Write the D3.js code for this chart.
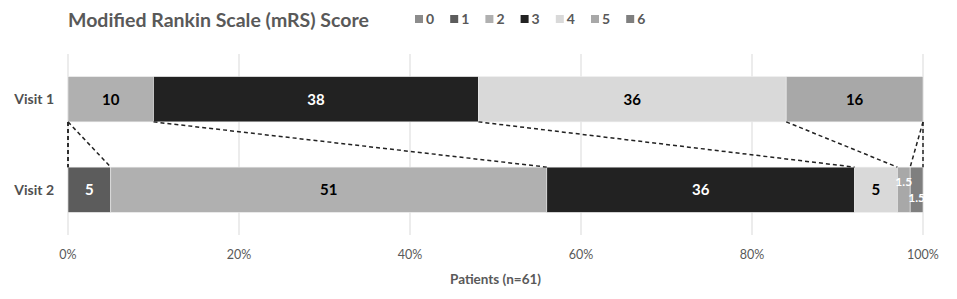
<!doctype html>
<html>
<head>
<meta charset="utf-8">
<style>
    body { margin: 0; background: #fff; font-family: Lato, 'Open Sans', sans-serif; }
    svg { display: block; }
    .grid line { stroke: #d9d9d9; stroke-width: 1; }
    .tick-label { font-size: 12.5px; fill: #595959; }
    .visit { font-size: 14px; font-weight: 700; fill: #505050; }
    .title { font-size: 19.5px; font-weight: 700; fill: #595959; }
    .legend text { font-size: 14px; font-weight: 700; fill: #595959; }
    .value { font-size: 15px; font-weight: 700; }
    .axis-title { font-size: 13.5px; font-weight: 700; fill: #595959; }
    .link { stroke: #222; stroke-width: 1.5; stroke-dasharray: 4 3; fill: none; }
</style>
<script src="https://d3js.org/d3.v7.min.js"></script>
</head>
<body>
<svg width="957" height="299"></svg>
<script>
// mRS categories and share of patients (%) per visit
const categories = ['0', '1', '2', '3', '4', '5', '6'];
const visits = ['Visit 1', 'Visit 2'];
const visit1 = [0, 0, 10, 38, 36, 16, 0];
const visit2 = [0, 5, 51, 36, 5, 1.5, 1.5];
const xTicks = [0, 20, 40, 60, 80, 100];

const colors = ['#8c8c8c', '#5c5c5c', '#b0b0b0', '#222222', '#d9d9d9', '#a8a8a8', '#7f7f7f'];
const textColors = ['#fff', '#fff', '#000', '#fff', '#000', '#000', '#fff'];

const svg = d3.select('svg');

const x = d3.scaleLinear().domain([0, 100]).range([68, 923]);
const y = d3.scaleBand().domain(visits).range([54, 235])
    .paddingInner(0.5).paddingOuter(0.25);

// rows for the stack
const rows = visits.map((v, i) => {
    const vals = i === 0 ? visit1 : visit2;
    const r = { visit: v };
    categories.forEach((c, j) => r[c] = vals[j]);
    return r;
});
const series = d3.stack().keys(categories)(rows);

// grid
svg.append('g').attr('class', 'grid')
    .selectAll('line').data(xTicks).join('line')
    .attr('x1', d => x(d)).attr('x2', d => x(d))
    .attr('y1', 54).attr('y2', 235);

svg.append('g').selectAll('text').data(xTicks).join('text')
    .attr('class', 'tick-label')
    .attr('x', d => x(d)).attr('y', 259)
    .attr('text-anchor', 'middle')
    .text(d => d + '%');

// bars
const segs = svg.append('g').selectAll('g').data(series).join('g')
    .attr('fill', (s, i) => colors[i]);

segs.selectAll('rect').data(s => s.map(d => ({ d, key: s.key })))
    .join('rect')
    .attr('x', o => x(o.d[0]))
    .attr('width', o => x(o.d[1]) - x(o.d[0]))
    .attr('y', o => y(o.d.data.visit))
    .attr('height', y.bandwidth())
    .attr('stroke', '#eee').attr('stroke-width', 0.6);

// connectors between cumulative boundaries
const cum = rows.map(r => {
    let acc = 0;
    const out = categories.map(c => { const s = acc; acc += r[c]; return s; });
    out.push(acc);
    return out;
});
const links = cum[0].map((a, i) => [a, cum[1][i]]);
svg.append('g').selectAll('line').data(links).join('line')
    .attr('class', 'link')
    .attr('x1', d => x(d[0])).attr('y1', y('Visit 1') + y.bandwidth())
    .attr('x2', d => x(d[1])).attr('y2', y('Visit 2'));

// value labels
const labels = [];
series.forEach((s, i) => s.forEach(d => {
    const v = d[1] - d[0];
    if (v > 0) labels.push({ v, i, d });
}));
svg.append('g').selectAll('text').data(labels).join('text')
    .attr('class', 'value')
    .attr('x', o => (x(o.d[0]) + x(o.d[1])) / 2)
    .attr('y', o => {
        let cy = y(o.d.data.visit) + y.bandwidth() / 2;
        if (o.v < 3) cy += (o.i === 5 ? -8 : 8);
        return cy;
    })
    .attr('dy', '0.35em')
    .attr('text-anchor', 'middle')
    .attr('fill', o => o.v < 3 ? '#fff' : textColors[o.i])
    .style('font-size', o => o.v < 3 ? '12px' : null)
    .text(o => o.v);

// visit labels
svg.append('g').selectAll('text').data(visits).join('text')
    .attr('class', 'visit')
    .attr('x', 54).attr('y', d => y(d) + y.bandwidth() / 2)
    .attr('dy', '0.35em').attr('text-anchor', 'end')
    .text(d => d);

// title and legend
svg.append('text').attr('class', 'title')
    .attr('x', 68).attr('y', 27).text('Modified Rankin Scale (mRS) Score');

const legend = svg.append('g').attr('class', 'legend')
    .selectAll('g').data(categories).join('g')
    .attr('transform', (d, i) => `translate(${415 + i * 35.2}, 0)`);
legend.append('rect').attr('x', 0).attr('y', 15).attr('width', 8).attr('height', 8)
    .attr('fill', (d, i) => colors[i]);
legend.append('text').attr('x', 11).attr('y', 24).text(d => d);

svg.append('text').attr('class', 'axis-title')
    .attr('x', x(50)).attr('y', 284).attr('text-anchor', 'middle')
    .text('Patients (n=61)');
</script>
</body>
</html>
